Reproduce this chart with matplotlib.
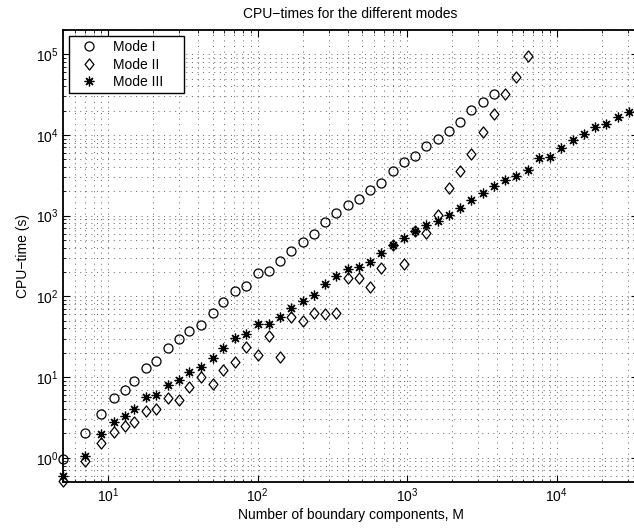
import matplotlib
matplotlib.use("Agg")
import matplotlib.pyplot as plt
from matplotlib.ticker import LogLocator, NullFormatter
from matplotlib.path import Path

plt.rcParams['font.family'] = ['Liberation Sans', 'DejaVu Sans']
plt.rcParams['mathtext.fontset'] = 'custom'
plt.rcParams['mathtext.rm'] = 'Liberation Sans'
plt.rcParams['mathtext.it'] = 'Liberation Sans:italic'

# Number of boundary components M (shared x positions)
M = [5, 7, 9, 11, 13, 15, 18, 21, 25, 30, 35, 42, 50, 59, 71, 84, 100, 119,
     141, 168, 200, 238, 283, 336, 400, 476, 566, 673, 800, 951, 1131, 1345,
     1600, 1903, 2263, 2691, 3200, 3805, 4525, 5382, 6400, 7611, 9051, 10763,
     12800, 15222, 18102, 21527, 25600, 30444]

mode1 = [0.97, 2.0, 3.5, 5.5, 6.9, 8.9, 12.9, 15.8, 22.8, 29.5, 37, 44, 62, 84,
         115, 133, 192, 209, 278, 360, 477, 600, 842, 1087, 1370, 1625, 2100,
         2555, 3600, 4660, 5530, 7300, 8970, 11300, 14600, 20300, 25500, 31800]

mode2 = [0.52, 0.92, 1.53, 2.1, 2.5, 2.8, 3.8, 4.0, 5.5, 5.2, 7.5, 10, 8.2,
         12.2, 15.3, 23.4, 19, 32, 17.6, 55, 50, 63, 60, 63, 167, 167, 130,
         225, 430, 255, 640, 615, 1030, 2200, 3600, 5800, 10900, 18100, 31800,
         53000, 94000]

mode3 = [0.6, 1.06, 1.98, 2.8, 3.3, 4.0, 5.65, 6.0, 8.0, 9.2, 11.5, 13.3, 17.2,
         22.8, 30.3, 34, 45, 45, 55, 72, 87, 103, 144, 177, 216, 228, 270, 340,
         438, 535, 650, 770, 870, 1030, 1250, 1580, 1920, 2340, 2800, 3100,
         3700, 5200, 5300, 6900, 8700, 10200, 12500, 13600, 16500, 19200]

labels = ['Mode I', 'Mode II', 'Mode III']

diamond = Path([(0, 0.5), (0.4, 0), (0, -0.5), (-0.4, 0), (0, 0.5)],
               [Path.MOVETO, Path.LINETO, Path.LINETO, Path.LINETO, Path.CLOSEPOLY])

W, H = 634, 529
fig = plt.figure(figsize=(W / 100, H / 100), dpi=100)
left, right, top, bottom = 63, 638, 30, 482
ax = fig.add_axes([left / W, 1 - bottom / H, (right - left) / W, (bottom - top) / H])

pad = '\u2002\u2002\u2009'
kw = dict(linestyle='none', color='k', mfc='none', mec='k', clip_on=False)
ax.plot(M[:len(mode1)], mode1, marker='o', markersize=6.5, mew=0.9, label=labels[0] + pad, **kw)
ax.plot(M[:len(mode2)], mode2, marker=diamond, markersize=8, mew=0.9, label=labels[1] + pad, **kw)
ax.plot(M[:len(mode3)], mode3, marker=(8, 2, 0), markersize=7, mew=0.9, label=labels[2] + pad, **kw)

ax.set_xscale('log')
ax.set_yscale('log')
ax.set_xlim(5, 3.5e4)
ax.set_ylim(0.5, 2e5)

for a in (ax.xaxis, ax.yaxis):
    a.set_major_locator(LogLocator(base=10, numticks=20))
    a.set_minor_locator(LogLocator(base=10, subs=range(2, 10), numticks=20))
    a.set_minor_formatter(NullFormatter())

ax.set_axisbelow(True)
ax.grid(True, which='both', linestyle=(0, (1.2, 5.5)), color='0.3', linewidth=0.6)
ax.tick_params(which='both', direction='in', top=True, right=True, labelsize=10)
ax.tick_params(which='major', length=5, width=0.8)
ax.tick_params(which='minor', length=2.5, width=0.6)
for s in ax.spines.values():
    s.set_linewidth(1.3)

ax.set_title('CPU\u2212times for the different modes', fontsize=10, pad=9)
ax.set_xlabel('Number of boundary components, M', fontsize=10, labelpad=2)
ax.set_ylabel('CPU\u2212time (s)', fontsize=10, labelpad=4)

leg = ax.legend(loc='upper left', bbox_to_anchor=(6 / (right - left), 1 - 6 / (bottom - top)),
                borderaxespad=0, fancybox=False, edgecolor='k', framealpha=1,
                fontsize=10, handlelength=2.3, handletextpad=0.55, borderpad=0.3,
                labelspacing=0.25)
leg.get_frame().set_linewidth(1.0)

fig.savefig('out.png', dpi=100)
